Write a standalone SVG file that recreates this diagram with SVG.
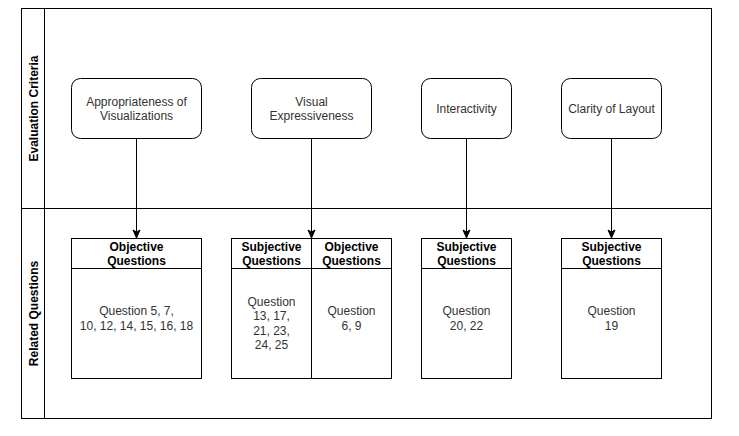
<svg xmlns="http://www.w3.org/2000/svg" width="739" height="436" viewBox="0 0 739 436">
<defs>
<style>
.ln{fill:none;stroke:#000;stroke-width:1}
.box{fill:#fff;stroke:#000;stroke-width:1}
.t{font-family:"Liberation Sans",Arial,sans-serif;font-size:12px;fill:#333;text-anchor:middle}
.b{font-family:"Liberation Sans",Arial,sans-serif;font-size:12px;font-weight:bold;fill:#000;text-anchor:middle}
</style>
<marker id="arr" markerWidth="10" markerHeight="10" viewBox="0 0 10 10" refX="9" refY="5" orient="auto" markerUnits="userSpaceOnUse">
<path d="M1,1.5 L9,5 L1,8.5 L3,5 Z" fill="#000" stroke="#000" stroke-width="1"/>
</marker>
</defs>
<rect width="739" height="436" fill="#fff"/>
<g id="pool">
<rect class="box" x="21.5" y="8.5" width="690" height="410"/>
<line class="ln" x1="44.5" y1="8.5" x2="44.5" y2="418.5"/>
<line class="ln" x1="21.5" y1="208.5" x2="711.5" y2="208.5"/>
<text class="b" transform="translate(37.5,108.5) rotate(-90)">Evaluation Criteria</text>
<text class="b" transform="translate(37.5,313.5) rotate(-90)">Related Questions</text>
</g>
<g id="connectors">
<line class="ln" x1="136.5" y1="138.5" x2="136.5" y2="238" marker-end="url(#arr)"/>
<line class="ln" x1="311.5" y1="138.5" x2="311.5" y2="238" marker-end="url(#arr)"/>
<line class="ln" x1="466.5" y1="138.5" x2="466.5" y2="238" marker-end="url(#arr)"/>
<line class="ln" x1="611.5" y1="138.5" x2="611.5" y2="238" marker-end="url(#arr)"/>
</g>
<g id="node-appropriateness">
<rect class="box" x="71.5" y="78.5" width="130" height="60" rx="9"/>
<text class="t" x="136.5" y="105.5">Appropriateness of</text>
<text class="t" x="136.5" y="120">Visualizations</text>
</g>
<g id="node-expressiveness">
<rect class="box" x="251.5" y="78.5" width="120" height="60" rx="9"/>
<text class="t" x="311.5" y="105.5">Visual</text>
<text class="t" x="311.5" y="120">Expressiveness</text>
</g>
<g id="node-interactivity">
<rect class="box" x="421.5" y="78.5" width="90" height="60" rx="9"/>
<text class="t" x="466.5" y="112.5">Interactivity</text>
</g>
<g id="node-clarity">
<rect class="box" x="561.5" y="78.5" width="100" height="60" rx="9"/>
<text class="t" x="611.5" y="112.5">Clarity of Layout</text>
</g>
<g id="box-q1">
<rect class="box" x="71.5" y="238.5" width="130" height="140"/>
<line class="ln" x1="71.5" y1="268.5" x2="201.5" y2="268.5"/>
<text class="b" x="136.5" y="250.5">Objective</text>
<text class="b" x="136.5" y="265">Questions</text>
<text class="t" x="136.5" y="314.5">Question 5, 7,</text>
<text class="t" x="136.5" y="330">10, 12, 14, 15, 16, 18</text>
</g>
<g id="box-q2">
<rect class="box" x="231.5" y="238.5" width="160" height="140"/>
<line class="ln" x1="231.5" y1="268.5" x2="391.5" y2="268.5"/>
<line class="ln" x1="311.5" y1="238.5" x2="311.5" y2="378.5"/>
<text class="b" x="271.5" y="250.5">Subjective</text>
<text class="b" x="271.5" y="265">Questions</text>
<text class="b" x="351.5" y="250.5">Objective</text>
<text class="b" x="351.5" y="265">Questions</text>
<text class="t" x="271.5" y="305.5">Question</text>
<text class="t" x="271.5" y="320">13, 17,</text>
<text class="t" x="271.5" y="334.5">21, 23,</text>
<text class="t" x="271.5" y="349">24, 25</text>
<text class="t" x="351.5" y="315">Question</text>
<text class="t" x="351.5" y="330">6, 9</text>
</g>
<g id="box-q3">
<rect class="box" x="421.5" y="238.5" width="90" height="140"/>
<line class="ln" x1="421.5" y1="268.5" x2="511.5" y2="268.5"/>
<text class="b" x="466.5" y="250.5">Subjective</text>
<text class="b" x="466.5" y="265">Questions</text>
<text class="t" x="466.5" y="315">Question</text>
<text class="t" x="466.5" y="330">20, 22</text>
</g>
<g id="box-q4">
<rect class="box" x="561.5" y="238.5" width="100" height="140"/>
<line class="ln" x1="561.5" y1="268.5" x2="661.5" y2="268.5"/>
<text class="b" x="611.5" y="250.5">Subjective</text>
<text class="b" x="611.5" y="265">Questions</text>
<text class="t" x="611.5" y="315">Question</text>
<text class="t" x="611.5" y="330">19</text>
</g>
</svg>
